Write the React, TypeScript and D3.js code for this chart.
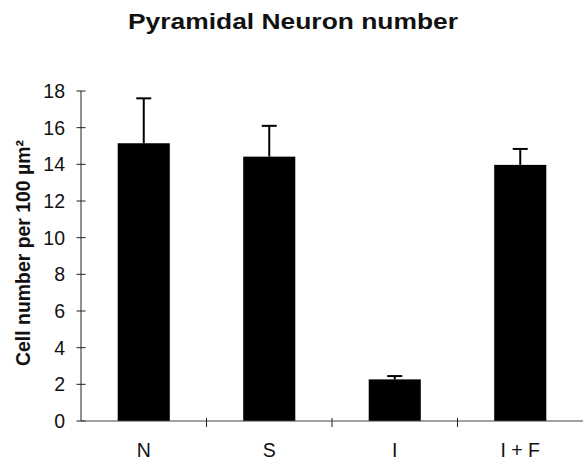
import React from 'react';
import * as d3 from 'd3';

const groups = ['N', 'S', 'I', 'I + F'];
const means = [15.15, 14.42, 2.27, 13.97];
const errors = [2.45, 1.68, 0.18, 0.87];
const yTicks = [0, 2, 4, 6, 8, 10, 12, 14, 16, 18];

const App = () => {
    const width = 586;
    const height = 460;
    const left = 81;
    const right = 583;
    const top = 91;
    const bottom = 421;

    const x = d3.scaleBand<string>().domain(groups).range([left, right]).padding(0);
    const y = d3.scaleLinear().domain([0, 18]).range([bottom, top]);
    const barW = x.bandwidth() * 0.415;
    const capW = 15;
    const font = '"Liberation Sans", Arial, sans-serif';

    return (
        <svg width={width} height={height} style={{ position: 'absolute', left: 0, top: 0 }}>
            <rect width={width} height={height} fill="#fff" />

            {/* title */}
            <text x={293} y={29} textAnchor="middle" fontFamily={font} fontWeight="bold"
                fontSize={22} textLength={330} lengthAdjust="spacingAndGlyphs" fill="#111">
                Pyramidal Neuron number
            </text>

            {/* y label */}
            <text transform={`translate(30,${(top + bottom) / 2 - 3}) rotate(-90)`} textAnchor="middle"
                fontFamily={font} fontWeight="bold" fontSize={19.5} textLength={226}
                lengthAdjust="spacingAndGlyphs" fill="#111">
                Cell number per 100 µm²
            </text>

            {/* bars */}
            {groups.map((g, i) => {
                const cx = x(g)! + x.bandwidth() / 2;
                return (
                    <g key={g}>
                        <rect x={cx - barW / 2} y={y(means[i])} width={barW} height={y(0) - y(means[i])} fill="#000" />
                        <line x1={cx} x2={cx} y1={y(means[i])} y2={y(means[i] + errors[i])} stroke="#000" strokeWidth={2} />
                        <line x1={cx - capW / 2} x2={cx + capW / 2} y1={y(means[i] + errors[i])} y2={y(means[i] + errors[i])}
                            stroke="#000" strokeWidth={2} />
                    </g>
                );
            })}

            {/* y axis */}
            <line x1={left} x2={left} y1={y(18)} y2={y(0)} stroke="#222" strokeWidth={1} />
            {yTicks.map(t => (
                <g key={t}>
                    <line x1={left - 4.5} x2={left + 4.5} y1={y(t)} y2={y(t)} stroke="#222" strokeWidth={1} />
                    <text x={65} y={y(t) + 7} textAnchor="end" fontFamily={font} fontSize={19.5} fill="#111">{t}</text>
                </g>
            ))}

            {/* x axis */}
            <line x1={left} x2={right} y1={y(0)} y2={y(0)} stroke="#444" strokeWidth={1} />
            {groups.slice(1).map(g => (
                <line key={g} x1={x(g)!} x2={x(g)!} y1={y(0) - 3} y2={y(0) + 6} stroke="#222" strokeWidth={1} />
            ))}
            {groups.map(g => (
                <text key={g} x={x(g)! + x.bandwidth() / 2} y={457} textAnchor="middle" fontFamily={font}
                    fontSize={19.5} fill="#111">{g}</text>
            ))}
        </svg>
    );
};

export default App;
